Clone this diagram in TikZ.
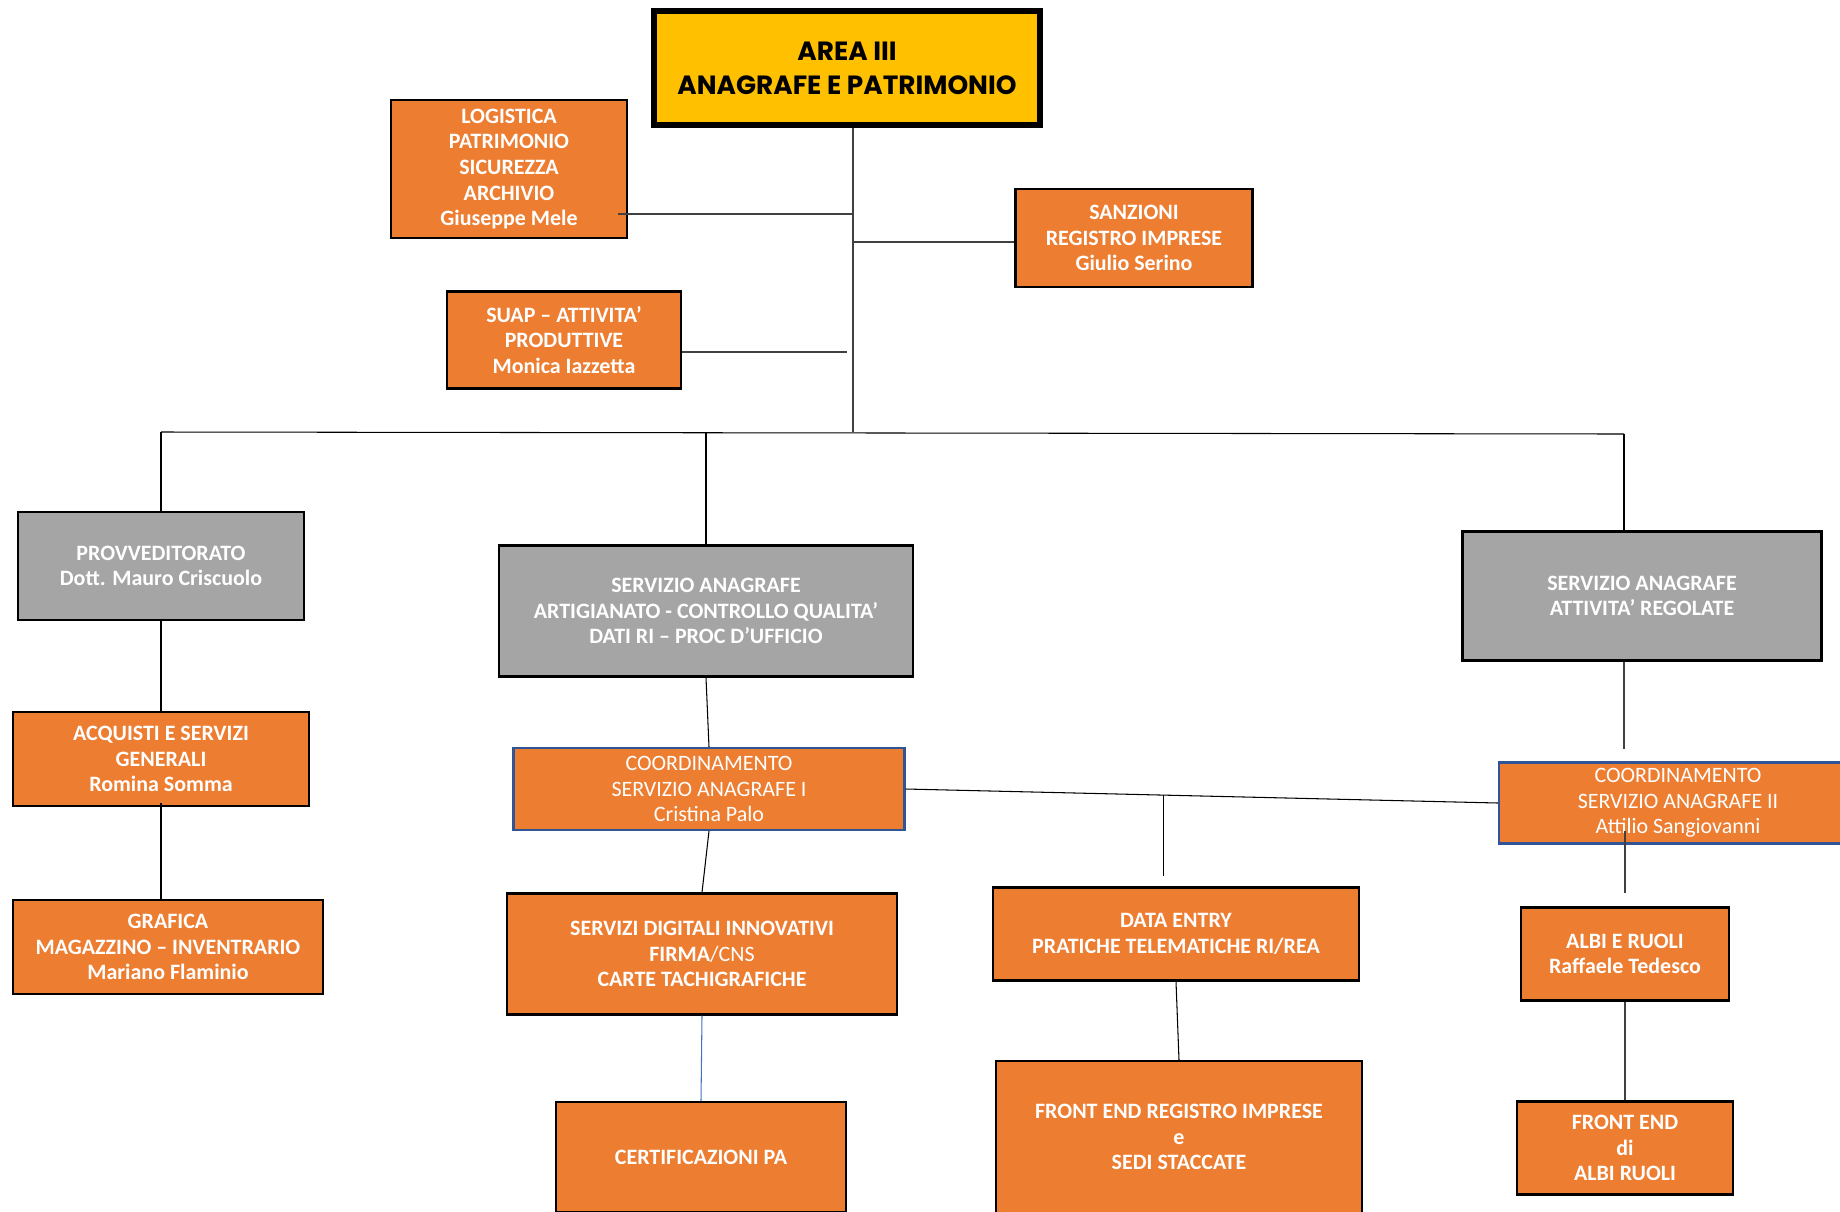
\documentclass[tikz,border=0pt]{standalone}
\usepackage{fontspec}
\setmainfont{Carlito}
\newfontfamily\titlefont{Poppins}

\definecolor{boxorange}{HTML}{ED7D31}
\definecolor{boxgray}{HTML}{A5A5A5}
\definecolor{areayellow}{HTML}{FFC000}
\definecolor{coordblue}{HTML}{2F5597}
\definecolor{linkblue}{HTML}{4472C4}

\begin{document}
\begin{tikzpicture}[
    x=0.02cm,
    y=-0.02cm,
    unit/.style={
        draw=black,
        line width=1.2pt,
        align=center,
        text=white,
        inner sep=0pt,
        font=\fontsize{12.5}{14.6}\selectfont\bfseries,
    },
    office/.style={
        unit,
        fill=boxorange,
    },
    service/.style={
        unit,
        fill=boxgray,
    },
    coord/.style={
        unit,
        fill=boxorange,
        draw=coordblue,
        font=\fontsize{12.5}{14.6}\selectfont,
    },
    area/.style={
        draw=black,
        line width=3.4pt,
        fill=areayellow,
        align=center,
        font=\titlefont\fontsize{15}{19.3}\selectfont\bfseries,
    },
    link/.style={
        draw=black!75,
        line width=0.9pt,
    },
    wire/.style={
        draw=black,
        line width=0.6pt,
    }
]
    \useasboundingbox (0,0) rectangle (1840,1211);
    \fill[white] (0,0) rectangle (1840,1211);

    % Area
    \node[area, minimum width=7.72cm, minimum height=2.28cm] (area) at (847,68)
        {AREA III\\ANAGRAFE E PATRIMONIO};

    % Staff offices
    \node[office, minimum width=4.72cm, minimum height=2.76cm] (logistica) at (509,169)
        {LOGISTICA\\PATRIMONIO\\SICUREZZA\\ARCHIVIO\\Giuseppe Mele};
    \node[office, minimum width=4.68cm, minimum height=1.94cm] (suap) at (564,340)
        {SUAP – ATTIVITA’\\PRODUTTIVE\\Monica Iazzetta};
    \node[office, minimum width=4.74cm, minimum height=1.96cm] (sanzioni) at (1134,238)
        {SANZIONI\\REGISTRO IMPRESE\\Giulio Serino};

    % Services
    \node[service, minimum width=5.72cm, minimum height=2.16cm] (provv) at (161,566)
        {PROVVEDITORATO\\Dott. Mauro Criscuolo};
    \node[service, minimum width=8.28cm, minimum height=2.62cm] (saart) at (706,611)
        {SERVIZIO ANAGRAFE\\ARTIGIANATO - CONTROLLO QUALITA’\\DATI RI – PROC D’UFFICIO};
    \node[service, minimum width=7.18cm, minimum height=2.58cm] (sareg) at (1642,596)
        {SERVIZIO ANAGRAFE\\ATTIVITA’ REGOLATE};

    % Coordination
    \node[coord, minimum width=7.82cm, minimum height=1.64cm] (coordI) at (709,789)
        {COORDINAMENTO\\SERVIZIO ANAGRAFE I\\Cristina Palo};
    \node[coord, minimum width=7.16cm, minimum height=1.62cm] (coordII) at (1678,803)
        {COORDINAMENTO\\SERVIZIO ANAGRAFE II\\Attilio Sangiovanni};

    % Offices
    \node[office, minimum width=5.92cm, minimum height=1.88cm] (acquisti) at (161,759)
        {ACQUISTI E SERVIZI\\GENERALI\\Romina Somma};
    \node[office, minimum width=6.2cm, minimum height=1.88cm] (grafica) at (168,947)
        {GRAFICA\\MAGAZZINO – INVENTRARIO\\Mariano Flaminio};
    \node[office, minimum width=7.8cm, minimum height=2.42cm] (digitali) at (702,954)
        {SERVIZI DIGITALI INNOVATIVI\\FIRMA{\mdseries/CNS}\\CARTE TACHIGRAFICHE};
    \node[office, minimum width=5.8cm, minimum height=2.2cm] (cert) at (701,1157)
        {CERTIFICAZIONI PA};
    \node[office, minimum width=7.32cm, minimum height=1.86cm] (dataentry) at (1176,934)
        {DATA ENTRY\\PRATICHE TELEMATICHE RI/REA};
    \node[office, minimum width=7.32cm, minimum height=3.04cm] (frontri) at (1179,1137)
        {FRONT END REGISTRO IMPRESE\\e\\SEDI STACCATE};
    \node[office, minimum width=4.16cm, minimum height=1.86cm] (albi) at (1625,954)
        {ALBI E RUOLI\\Raffaele Tedesco};
    \node[office, minimum width=4.32cm, minimum height=1.86cm] (frontalbi) at (1625,1148)
        {FRONT END\\di\\ALBI RUOLI};

    % Trunk and bus
    \coordinate (bus) at (853,432);
    \coordinate (busL) at (161,432);
    \coordinate (busR) at (1624,434);
    \coordinate (jlog) at (853,214);
    \coordinate (jsan) at (853,242);
    \coordinate (jsuap) at (847,352);
    \draw[link] (area.south -| bus) -- (bus);
    \draw[link] ([xshift=-0.2cm]logistica.east |- jlog) -- (jlog);
    \draw[link] (jsan) -- (sanzioni.west |- jsan);
    \draw[link] (suap.east |- jsuap) -- (jsuap);
    \draw[wire] (busL) -- (busR);
    \draw[wire] (busL) -- (provv.north);
    \draw[wire] (saart.north |- bus) -- (saart.north);
    \draw[wire] (busR) -- (busR |- sareg.north);

    % Left branch
    \draw[wire] (provv.south) -- (acquisti.north);
    \draw[wire] ([yshift=0.08cm]acquisti.south) -- (acquisti.south |- grafica.north);

    % Centre branch
    \draw[wire] (saart.south) -- (coordI.north);
    \draw[wire] (coordI.south) -- (digitali.north);
    \draw[linkblue, line width=0.6pt] (digitali.south) -- (cert.north);
    \draw[wire] (coordI.east) -- coordinate[pos=0.436] (split) (coordII.west);
    \draw[wire] (split) -- ++(0,81);
    \draw[wire] (dataentry.south) -- (frontri.north);

    % Right branch
    \draw[link] (busR |- sareg.south) -- ++(0,87);
    \draw[link] ([yshift=0.28cm]albi.north |- coordII.south) -- ++(0,62);
    \draw[link] (albi.south) -- (frontalbi.north);
\end{tikzpicture}
\end{document}
